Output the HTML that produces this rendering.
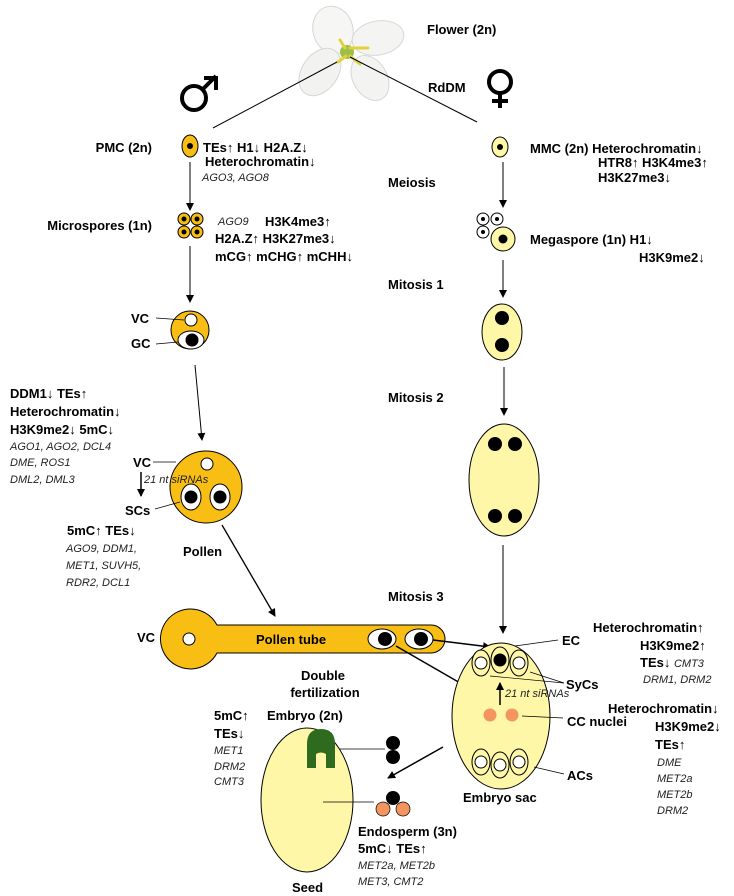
<!DOCTYPE html>
<html><head><meta charset="utf-8"><style>
html,body{margin:0;padding:0;background:#fff}
svg{display:block}
text{font-family:"Liberation Sans",Arial,sans-serif;font-size:13px;font-weight:bold;fill:#000}
.i{font-style:italic;font-weight:normal;font-size:11px;fill:#222}
.r{text-anchor:end}
</style></head><body>
<svg width="734" height="896" viewBox="0 0 734 896" xmlns="http://www.w3.org/2000/svg">
<defs>
<marker id="a" markerWidth="8" markerHeight="8" refX="7" refY="4" orient="auto" markerUnits="userSpaceOnUse"><path d="M0,0 L8,4 L0,8 z" fill="#000"/></marker>
</defs>
<!-- flower -->
<g stroke="#d4d8d4" stroke-width="1">
<ellipse cx="333" cy="30" rx="20" ry="24" fill="#f6f7f5" transform="rotate(-15 333 30)"/>
<ellipse cx="378" cy="38" rx="26" ry="17" fill="#f4f5f3" transform="rotate(-10 378 38)"/>
<ellipse cx="320" cy="72" rx="18" ry="26" fill="#f2f3f1" transform="rotate(35 320 72)"/>
<ellipse cx="370" cy="78" rx="17" ry="24" fill="#f3f4f2" transform="rotate(-30 370 78)"/>
</g>
<circle cx="347" cy="52" r="7" fill="#9cbf4a"/>
<g stroke="#e2d23c" stroke-width="3" stroke-linecap="round">
<line x1="345" y1="48" x2="340" y2="40"/><line x1="350" y1="48" x2="368" y2="48"/>
<line x1="346" y1="56" x2="338" y2="62"/><line x1="350" y1="56" x2="360" y2="64"/>
</g>
<text x="427" y="34">Flower (2n)</text>
<text x="428" y="92">RdDM</text>
<!-- male symbol -->
<g stroke="#000" stroke-width="4" fill="none">
<circle cx="194" cy="98" r="12"/>
<line x1="203" y1="89" x2="216" y2="76"/>
<polyline points="204,78 216,78 216,90"/>
</g>
<!-- female symbol -->
<g stroke="#000" stroke-width="4" fill="none">
<circle cx="500" cy="82" r="11"/>
<line x1="500" y1="93" x2="500" y2="108"/>
<line x1="492" y1="101" x2="508" y2="101"/>
</g>
<line x1="337" y1="62" x2="213" y2="128" stroke="#000" stroke-width="1"/>
<line x1="350" y1="57" x2="477" y2="122" stroke="#000" stroke-width="1"/>

<!-- male side -->
<text class="r" x="152" y="152">PMC (2n)</text>
<ellipse cx="190" cy="146" rx="8" ry="11" fill="#F8BE13" stroke="#000"/>
<circle cx="190" cy="146" r="3" fill="#000"/>
<text x="203" y="152">TEs↑ H1↓  H2A.Z↓</text>
<text x="205" y="166">Heterochromatin↓</text>
<text class="i" x="202" y="181">AGO3, AGO8</text>
<line x1="190" y1="162" x2="190" y2="210" stroke="#000" marker-end="url(#a)"/>

<text class="r" x="152" y="230">Microspores (1n)</text>
<g fill="#F8BE13" stroke="#000">
<circle cx="184" cy="219" r="6"/><circle cx="197" cy="219" r="6"/><circle cx="184" cy="232" r="6"/><circle cx="197" cy="232" r="6"/>
</g>
<g fill="#000"><circle cx="184" cy="219" r="2.5"/><circle cx="197" cy="219" r="2.5"/><circle cx="184" cy="232" r="2.5"/><circle cx="197" cy="232" r="2.5"/></g>
<text class="i" x="218" y="225">AGO9</text>
<text x="265" y="226">H3K4me3↑</text>
<text x="215" y="243">H2A.Z↑ H3K27me3↓</text>
<text x="215" y="261">mCG↑ mCHG↑ mCHH↓</text>
<line x1="190" y1="246" x2="190" y2="302" stroke="#000" marker-end="url(#a)"/>

<circle cx="190" cy="330" r="19" fill="#F8BE13" stroke="#000"/>
<circle cx="191" cy="320" r="6" fill="#fff" stroke="#000"/>
<ellipse cx="191" cy="340" rx="13" ry="9" fill="#fff" stroke="#000"/>
<circle cx="192" cy="340" r="6.5" fill="#000"/>
<text x="131" y="323">VC</text><line x1="156" y1="318" x2="184" y2="320" stroke="#000" stroke-width=".7"/>
<text x="131" y="348">GC</text><line x1="156" y1="344" x2="178" y2="342" stroke="#000" stroke-width=".7"/>
<line x1="195" y1="365" x2="202" y2="440" stroke="#000" marker-end="url(#a)"/>

<text x="10" y="398">DDM1↓ TEs↑</text>
<text x="10" y="416">Heterochromatin↓</text>
<text x="10" y="434">H3K9me2↓ 5mC↓</text>
<text class="i" x="10" y="450">AGO1, AGO2, DCL4</text>
<text class="i" x="10" y="466">DME, ROS1</text>
<text class="i" x="10" y="483">DML2, DML3</text>

<circle cx="206" cy="487" r="36" fill="#F8BE13" stroke="#000"/>
<circle cx="207" cy="464" r="6" fill="#fff" stroke="#000"/>
<ellipse cx="191" cy="497" rx="10" ry="13" fill="#fff" stroke="#000"/>
<circle cx="191" cy="497" r="6.5" fill="#000"/>
<ellipse cx="220" cy="497" rx="10" ry="13" fill="#fff" stroke="#000"/>
<circle cx="220" cy="497" r="6.5" fill="#000"/>
<text x="133" y="467">VC</text><line x1="153" y1="462" x2="176" y2="462" stroke="#000" stroke-width=".7"/>
<line x1="141" y1="472" x2="141" y2="496" stroke="#000" stroke-width="1.5" marker-end="url(#a)"/>
<text class="i" x="144" y="483">21 nt siRNAs</text>
<text x="125" y="515">SCs</text><line x1="155" y1="509" x2="180" y2="502" stroke="#000" stroke-width=".7"/>
<text x="67" y="535">5mC↑ TEs↓</text>
<text class="i" x="66" y="552">AGO9, DDM1,</text>
<text class="i" x="66" y="569">MET1, SUVH5,</text>
<text class="i" x="66" y="586">RDR2, DCL1</text>
<text x="183" y="556">Pollen</text>
<line x1="222" y1="525" x2="275" y2="616" stroke="#000" stroke-width="1.3" marker-end="url(#a)"/>

<!-- pollen tube -->
<path d="M189,609 A30,30 0 0 1 217,625 L431,625 A14,14 0 0 1 445,639 A14,14 0 0 1 431,653 L217,653 A30,30 0 1 1 189,609 z" fill="#F8BE13" stroke="#000"/>
<circle cx="189" cy="639" r="6" fill="#fff" stroke="#000"/>
<text x="137" y="642">VC</text>
<text x="256" y="644">Pollen tube</text>
<ellipse cx="382" cy="639" rx="14" ry="10" fill="#fff" stroke="#000"/><circle cx="385" cy="639" r="7" fill="#000"/>
<ellipse cx="419" cy="639" rx="14" ry="10" fill="#fff" stroke="#000"/><circle cx="421" cy="639" r="7" fill="#000"/>
<line x1="433" y1="640" x2="490" y2="647" stroke="#000" stroke-width="1.5" marker-end="url(#a)"/>
<line x1="396" y1="646" x2="500" y2="706" stroke="#000" stroke-width="1.5" marker-end="url(#a)"/>

<text x="323" y="680" text-anchor="middle">Double</text>
<text x="325" y="697" text-anchor="middle">fertilization</text>

<!-- embryo sac -->
<ellipse cx="501" cy="716" rx="49" ry="73" fill="#FFF7A8" stroke="#000"/>
<g stroke="#000">
<ellipse cx="481" cy="663" rx="9" ry="13" fill="#FFF7A8"/><circle cx="481" cy="663" r="6" fill="#fff"/>
<ellipse cx="500" cy="660" rx="9" ry="13" fill="#FFF7A8"/><circle cx="500" cy="660" r="6" fill="#000"/>
<ellipse cx="519" cy="663" rx="9" ry="13" fill="#FFF7A8"/><circle cx="519" cy="663" r="6" fill="#fff"/>
<ellipse cx="481" cy="762" rx="9" ry="13" fill="#FFF7A8"/><circle cx="481" cy="762" r="6" fill="#fff"/>
<ellipse cx="500" cy="765" rx="9" ry="13" fill="#FFF7A8"/><circle cx="500" cy="765" r="6" fill="#fff"/>
<ellipse cx="519" cy="762" rx="9" ry="13" fill="#FFF7A8"/><circle cx="519" cy="762" r="6" fill="#fff"/>
<circle cx="490" cy="715" r="6.5" fill="#F4955F" stroke="none"/><circle cx="512" cy="715" r="6.5" fill="#F4955F" stroke="none"/>
</g>
<line x1="500" y1="705" x2="500" y2="683" stroke="#000" stroke-width="1.5" marker-end="url(#a)"/>
<text class="i" x="505" y="697">21 nt siRNAs</text>
<text x="562" y="645">EC</text><line x1="558" y1="640" x2="515" y2="646" stroke="#000" stroke-width=".7"/>
<text x="566" y="689">SyCs</text>
<line x1="564" y1="683" x2="530" y2="672" stroke="#000" stroke-width=".7"/>
<line x1="564" y1="683" x2="490" y2="676" stroke="#000" stroke-width=".7"/>
<text x="567" y="726">CC nuclei</text><line x1="563" y1="718" x2="522" y2="716" stroke="#000" stroke-width=".7"/>
<text x="567" y="780">ACs</text><line x1="564" y1="774" x2="534" y2="767" stroke="#000" stroke-width=".7"/>
<text x="463" y="802">Embryo sac</text>

<text x="593" y="632">Heterochromatin↑</text>
<text x="640" y="650">H3K9me2↑</text>
<text x="640" y="667">TEs↓ <tspan class="i">CMT3</tspan></text>
<text class="i" x="643" y="683">DRM1, DRM2</text>
<text x="608" y="713">Heterochromatin↓</text>
<text x="655" y="731">H3K9me2↓</text>
<text x="655" y="749">TEs↑</text>
<text class="i" x="657" y="766">DME</text>
<text class="i" x="657" y="782">MET2a</text>
<text class="i" x="657" y="798">MET2b</text>
<text class="i" x="657" y="814">DRM2</text>

<line x1="443" y1="747" x2="388" y2="778" stroke="#000" stroke-width="1.5" marker-end="url(#a)"/>

<!-- seed -->
<ellipse cx="307" cy="800" rx="46" ry="72" fill="#FFF7A8" stroke="#000"/>
<path d="M307,744 Q307,729 321,729 Q335,729 335,744 L335,768 L326,768 L326,754 Q321,751 316,754 L316,768 L307,768 z" fill="#2E6B1E"/>
<circle cx="393" cy="743" r="7" fill="#000"/><circle cx="393" cy="757" r="7" fill="#000"/>
<line x1="385" y1="749" x2="340" y2="749" stroke="#000" stroke-width=".7"/>
<circle cx="393" cy="798" r="7" fill="#000"/>
<circle cx="383" cy="809" r="7" fill="#F4955F" stroke="#000" stroke-width=".7"/>
<circle cx="403" cy="809" r="7" fill="#F4955F" stroke="#000" stroke-width=".7"/>
<line x1="374" y1="802" x2="323" y2="802" stroke="#000" stroke-width=".7"/>

<text x="214" y="720">5mC↑</text>
<text x="267" y="720">Embryo (2n)</text>
<text x="214" y="738">TEs↓</text>
<text class="i" x="214" y="754">MET1</text>
<text class="i" x="214" y="770">DRM2</text>
<text class="i" x="214" y="785">CMT3</text>
<text x="358" y="836">Endosperm (3n)</text>
<text x="358" y="853">5mC↓  TEs↑</text>
<text class="i" x="358" y="869">MET2a, MET2b</text>
<text class="i" x="358" y="885">MET3, CMT2</text>
<text x="292" y="892">Seed</text>

<!-- female side -->
<text x="388" y="187">Meiosis</text>
<ellipse cx="500" cy="147" rx="8" ry="10" fill="#FFF7A8" stroke="#000"/>
<circle cx="500" cy="147" r="3" fill="#000"/>
<text x="530" y="153">MMC (2n)  Heterochromatin↓</text>
<text x="598" y="167">HTR8↑  H3K4me3↑</text>
<text x="598" y="182">H3K27me3↓</text>
<line x1="503" y1="162" x2="503" y2="207" stroke="#000" marker-end="url(#a)"/>
<g stroke="#000" fill="#fff">
<circle cx="483" cy="219" r="6"/><circle cx="497" cy="219" r="6"/><circle cx="483" cy="232" r="6"/>
</g>
<g fill="#000"><circle cx="483" cy="219" r="2"/><circle cx="497" cy="219" r="2"/><circle cx="483" cy="232" r="2"/></g>
<circle cx="503" cy="239" r="12" fill="#FFF7A8" stroke="#000"/><circle cx="503" cy="239" r="4.5" fill="#000"/>
<text x="530" y="244">Megaspore (1n)  H1↓</text>
<text x="639" y="262">H3K9me2↓</text>
<line x1="503" y1="260" x2="503" y2="297" stroke="#000" marker-end="url(#a)"/>
<text x="388" y="289">Mitosis 1</text>
<ellipse cx="502" cy="332" rx="20" ry="28" fill="#FFF7A8" stroke="#000"/>
<circle cx="502" cy="318" r="7" fill="#000"/><circle cx="502" cy="345" r="7" fill="#000"/>
<line x1="504" y1="367" x2="504" y2="415" stroke="#000" marker-end="url(#a)"/>
<text x="388" y="402">Mitosis 2</text>
<ellipse cx="504" cy="480" rx="35" ry="56" fill="#FFF7A8" stroke="#000"/>
<circle cx="495" cy="444" r="7" fill="#000"/><circle cx="515" cy="444" r="7" fill="#000"/>
<circle cx="495" cy="516" r="7" fill="#000"/><circle cx="515" cy="516" r="7" fill="#000"/>
<line x1="503" y1="545" x2="503" y2="633" stroke="#000" marker-end="url(#a)"/>
<text x="388" y="601">Mitosis 3</text>
</svg>
</body></html>
